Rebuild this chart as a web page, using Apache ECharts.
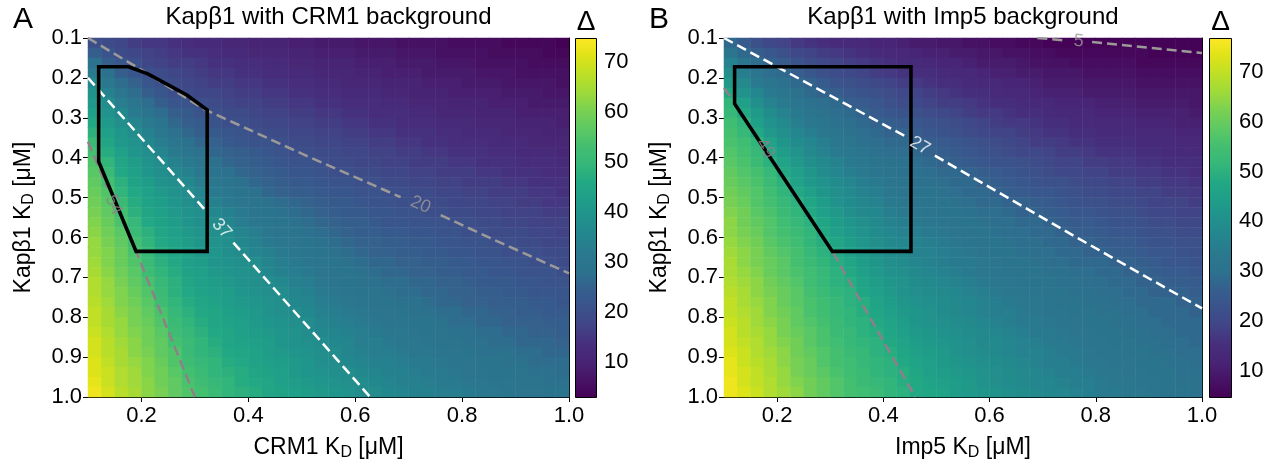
<!DOCTYPE html>
<html><head><meta charset="utf-8">
<script src="https://cdn.jsdelivr.net/npm/echarts@6/dist/echarts.min.js"></script>
<style>html,body{margin:0;padding:0;background:#fff}#c{width:1276px;height:466px}</style>
</head><body><div id="c"></div>
<script>
// ---------------- DATA ----------------
// Heatmap cell centres (μM), used for both axes of both panels
const kdCentres = [0.1125,0.1375,0.1625,0.1875,0.2125,0.2375,0.2625,0.2875,0.3125,0.3375,0.3625,0.3875,0.4125,0.4375,0.4625,0.4875,0.5125,0.5375,0.5625,0.5875,0.6125,0.6375,0.6625,0.6875,0.7125,0.7375,0.7625,0.7875,0.8125,0.8375,0.8625,0.8875,0.9125,0.9375,0.9625,0.9875];

// Panel A: Δ, one list per CRM1 K_D column (left -> right), each listing Kapβ1 K_D rows top -> bottom
const deltaA = [
[20,24,28,32,36,39,41,43,46,48,51,53,55,56,57,58,59,60,61,62,63,63,64,65,66,66,67,68,68,69,70,70,71,71,72,73],
[19,21,24,28,31,34,37,39,41,43,45,47,49,51,53,55,56,57,58,59,60,61,61,62,63,63,64,65,65,66,67,67,68,69,69,70],
[18,19,22,24,27,30,33,36,38,40,41,43,45,46,48,49,51,53,54,56,57,58,58,59,60,61,61,62,63,63,64,65,65,66,66,67],
[16,18,20,22,25,27,30,32,35,37,39,40,42,43,44,46,47,48,50,51,53,54,55,56,57,58,59,60,60,61,62,62,63,64,64,65],
[15,17,18,20,22,24,27,29,32,34,36,38,39,40,42,43,44,45,46,48,49,50,51,52,54,55,56,57,58,59,59,60,61,61,62,62],
[15,16,17,19,20,22,24,27,29,31,33,35,37,38,39,41,42,43,44,45,46,47,48,49,50,51,52,54,55,56,57,57,58,59,59,60],
[14,15,16,18,19,20,22,24,26,28,30,32,34,36,38,39,40,41,42,43,44,45,46,47,48,48,49,50,51,52,53,55,55,56,57,57],
[13,14,16,17,18,19,21,23,24,26,28,30,32,34,36,37,38,39,40,41,42,43,43,44,45,46,47,48,49,50,51,51,52,53,54,55],
[12,14,15,16,17,18,20,21,23,24,26,28,30,31,33,35,36,38,38,39,40,41,42,43,43,44,45,46,47,48,49,49,50,51,52,53],
[12,13,14,15,16,18,19,20,21,23,25,26,28,29,31,32,34,36,37,38,39,40,40,41,42,43,44,45,45,46,47,48,49,49,50,51],
[11,12,14,15,16,17,18,19,20,22,23,25,26,28,29,31,32,34,35,37,38,38,39,40,41,42,42,43,44,45,45,46,47,48,49,49],
[11,12,13,14,15,16,17,19,20,21,22,24,25,26,28,29,30,32,33,35,36,37,38,39,39,40,41,42,43,43,44,45,46,47,47,48],
[10,11,13,14,15,16,17,18,19,20,21,23,24,25,26,28,29,30,31,33,34,35,37,38,38,39,40,41,41,42,43,44,44,45,46,47],
[10,11,12,13,14,15,16,17,18,19,21,22,23,24,25,26,28,29,30,31,32,34,35,36,37,38,39,39,40,41,42,42,43,44,45,45],
[10,11,12,13,14,15,16,17,18,19,20,21,22,23,24,25,27,28,29,30,31,32,33,34,36,37,38,38,39,40,40,41,42,43,43,44],
[9,10,11,12,13,14,15,16,17,18,19,20,21,22,23,24,26,27,28,29,30,31,32,33,34,35,36,37,38,39,39,40,41,41,42,43],
[9,10,11,12,13,14,15,16,17,18,19,20,21,22,23,24,25,26,27,28,29,30,31,32,33,34,35,36,37,37,38,39,40,40,41,42],
[8,9,10,11,12,13,14,15,16,17,18,19,20,21,22,23,24,25,26,27,28,29,30,30,31,32,33,34,35,36,37,38,38,39,40,41],
[8,9,10,11,12,13,14,15,16,17,18,19,19,20,21,22,23,24,25,26,27,28,29,29,30,31,32,33,34,35,36,37,37,38,39,40],
[8,9,10,11,11,12,13,14,15,16,17,18,19,20,21,22,23,23,24,25,26,27,28,29,29,30,31,32,33,34,35,35,36,37,38,39],
[7,8,9,10,11,12,13,14,15,16,17,18,18,19,20,21,22,23,24,24,25,26,27,28,28,29,30,31,32,33,33,34,35,36,37,37],
[7,8,9,10,11,12,13,13,14,15,16,17,18,19,20,21,21,22,23,24,25,25,26,27,28,29,29,30,31,32,33,33,34,35,36,37],
[7,8,9,9,10,11,12,13,14,15,16,17,17,18,19,20,21,22,22,23,24,25,26,26,27,28,29,30,30,31,32,33,34,34,35,36],
[6,7,8,9,10,11,12,13,13,14,15,16,17,18,19,20,20,21,22,23,24,24,25,26,27,27,28,29,30,31,31,32,33,34,34,35],
[6,7,8,9,10,10,11,12,13,14,15,16,16,17,18,19,20,21,21,22,23,24,25,25,26,27,28,28,29,30,31,31,32,33,34,34],
[6,7,8,8,9,10,11,12,13,14,14,15,16,17,18,19,19,20,21,22,23,23,24,25,26,26,27,28,29,29,30,31,32,32,33,34],
[6,6,7,8,9,10,11,11,12,13,14,15,16,16,17,18,19,20,21,21,22,23,24,24,25,26,26,27,28,29,29,30,31,32,32,33],
[5,6,7,8,9,9,10,11,12,13,13,14,15,16,17,18,18,19,20,21,22,22,23,24,25,25,26,27,27,28,29,30,30,31,32,33],
[5,6,7,8,8,9,10,11,12,12,13,14,15,16,16,17,18,19,20,20,21,22,23,23,24,25,25,26,27,28,28,29,30,30,31,32],
[5,6,6,7,8,9,10,10,11,12,13,14,14,15,16,17,18,18,19,20,21,21,22,23,23,24,25,26,26,27,28,28,29,30,31,31],
[5,5,6,7,8,9,9,10,11,12,12,13,14,15,16,16,17,18,19,19,20,21,22,22,23,24,24,25,26,27,27,28,29,29,30,31],
[4,5,6,7,7,8,9,10,11,11,12,13,14,14,15,16,17,17,18,19,20,20,21,22,23,23,24,25,25,26,27,28,28,29,30,30],
[4,5,6,6,7,8,9,9,10,11,12,12,13,14,15,16,16,17,18,19,19,20,21,21,22,23,24,24,25,26,26,27,28,29,29,30],
[4,5,5,6,7,8,8,9,10,11,11,12,13,14,14,15,16,17,17,18,19,20,20,21,22,22,23,24,25,25,26,27,27,28,29,30],
[4,4,5,6,7,7,8,9,10,10,11,12,13,13,14,15,15,16,17,18,18,19,20,21,21,22,23,23,24,25,26,26,27,28,28,29],
[3,4,5,6,6,7,8,9,9,10,11,11,12,13,14,14,15,16,17,17,18,19,19,20,21,22,22,23,24,24,25,26,27,27,28,29]
];

// Panel B: Δ, one list per Imp5 K_D column (left -> right), rows top -> bottom
const deltaB = [
[28,32,36,40,43,47,51,52,54,55,56,57,58,59,60,61,62,63,64,64,65,66,67,67,68,69,70,70,71,72,72,73,74,74,75,75],
[25,28,32,35,38,41,45,48,51,52,54,55,56,57,58,59,60,61,61,62,63,64,64,65,66,67,67,68,69,69,70,71,71,72,72,73],
[22,26,29,32,34,37,40,43,45,48,51,52,53,55,56,57,57,58,59,60,61,62,62,63,64,64,65,66,66,67,68,68,69,70,70,71],
[20,24,27,29,32,34,36,39,41,43,46,48,50,52,53,54,55,56,57,57,58,59,60,60,61,62,63,63,64,65,65,66,67,67,68,68],
[19,22,25,28,30,32,34,36,38,40,42,44,46,48,50,51,52,53,54,55,56,57,58,58,59,60,60,61,62,62,63,64,64,65,65,66],
[17,20,23,26,28,30,32,34,35,37,39,41,43,45,46,48,50,51,52,53,54,55,55,56,57,58,58,59,59,60,61,61,62,62,63,64],
[16,19,21,24,27,28,30,32,33,35,37,38,40,42,43,45,47,48,50,51,51,52,53,54,54,55,56,56,57,58,58,59,60,60,61,61],
[15,18,20,22,25,27,29,30,32,33,35,36,38,39,41,42,44,45,47,48,49,50,51,52,52,53,54,54,55,56,56,57,57,58,59,59],
[14,17,19,21,23,26,28,29,30,32,33,34,36,37,39,40,41,43,44,45,47,48,49,50,50,51,52,52,53,53,54,55,55,56,57,57],
[14,16,18,20,22,24,26,28,29,30,32,33,34,35,37,38,39,40,42,43,44,45,47,48,49,50,50,51,51,52,52,53,54,54,55,55],
[13,15,17,19,21,23,25,27,28,29,30,32,33,34,35,36,37,38,40,41,42,43,44,45,46,47,49,49,50,50,51,52,52,53,53,54],
[12,14,16,18,20,22,24,25,27,28,29,30,31,32,34,35,36,37,38,39,40,41,42,43,44,45,46,47,48,49,50,50,51,51,52,53],
[12,13,15,17,19,21,22,24,26,27,28,29,30,31,32,33,34,35,36,37,38,39,40,41,42,43,44,45,46,47,48,49,50,50,51,51],
[11,13,14,16,18,20,21,23,25,27,28,29,30,30,31,32,33,34,35,36,37,38,39,40,41,41,42,43,44,45,46,47,48,49,49,50],
[10,12,14,15,17,19,20,22,24,25,27,28,29,30,30,31,32,33,34,35,36,36,37,38,39,40,41,42,42,43,44,45,46,47,48,48],
[10,11,13,15,16,18,19,21,23,24,26,27,28,29,30,31,31,32,33,34,35,36,36,37,38,39,40,41,41,42,43,44,45,45,46,47],
[9,11,12,14,15,17,18,20,22,23,25,26,27,28,29,30,31,31,32,33,34,35,35,36,37,38,39,39,40,41,42,43,43,44,45,46],
[9,10,12,13,15,16,18,19,21,22,24,25,26,28,28,29,30,31,31,32,33,34,34,35,36,37,38,38,39,40,41,41,42,43,44,44],
[8,10,11,13,14,15,17,18,20,21,23,24,25,27,28,28,29,30,31,31,32,33,34,34,35,36,37,37,38,39,40,40,41,42,43,43],
[8,9,10,12,13,15,16,17,19,20,22,23,24,26,27,28,28,29,30,31,31,32,33,33,34,35,36,36,37,38,38,39,40,41,41,42],
[7,9,10,11,13,14,15,17,18,19,21,22,23,25,26,27,28,29,29,30,31,31,32,33,33,34,35,35,36,37,38,38,39,40,40,41],
[7,8,10,11,12,13,15,16,17,19,20,21,23,24,25,26,27,28,29,29,30,31,31,32,33,33,34,35,35,36,37,37,38,39,39,40],
[6,8,9,10,12,13,14,15,17,18,19,20,22,23,24,25,27,27,28,29,29,30,31,31,32,33,33,34,34,35,36,36,37,38,38,39],
[6,7,8,10,11,12,13,15,16,17,18,20,21,22,23,24,26,27,28,28,29,29,30,31,31,32,33,33,34,34,35,36,36,37,37,38],
[5,7,8,9,10,11,13,14,15,16,18,19,20,21,22,24,25,26,27,28,28,29,29,30,31,31,32,32,33,34,34,35,35,36,37,37],
[5,6,8,9,10,11,12,13,15,16,17,18,19,20,22,23,24,25,26,27,28,28,29,30,30,31,31,32,32,33,34,34,35,35,36,37],
[5,6,7,9,10,11,12,13,14,15,16,18,19,20,21,22,23,24,25,26,27,28,28,29,30,30,31,31,32,32,33,34,34,35,35,36],
[5,6,7,8,9,10,12,13,14,15,16,17,18,19,20,21,22,24,25,26,27,27,28,29,29,30,30,31,31,32,32,33,33,34,35,35],
[5,6,7,8,9,10,11,12,13,14,15,16,18,19,20,21,22,23,24,25,26,27,28,28,29,29,30,30,31,31,32,32,33,33,34,34],
[5,6,7,8,9,10,11,12,13,14,15,16,17,18,19,20,21,22,23,24,25,26,27,28,28,29,29,30,30,31,31,32,32,33,33,34],
[5,6,7,8,9,10,11,12,13,14,15,16,17,18,19,20,21,22,23,24,25,26,27,27,28,28,29,29,30,30,31,31,32,32,33,33],
[5,6,6,7,8,9,10,11,12,13,14,15,16,17,18,19,20,21,22,23,24,25,26,27,27,28,28,29,29,30,30,31,31,32,32,33],
[5,5,6,7,8,9,10,11,12,13,14,15,16,17,18,19,19,20,21,22,23,24,25,26,27,27,28,28,29,29,30,30,31,31,32,32],
[5,5,6,7,8,9,10,11,12,13,14,14,15,16,17,18,19,20,21,22,23,24,24,25,26,27,28,28,28,29,29,30,30,31,31,31],
[5,5,6,7,8,9,10,11,11,12,13,14,15,16,17,18,19,19,20,21,22,23,24,25,26,27,27,28,28,28,29,29,30,30,30,31],
[5,5,6,7,8,9,9,10,11,12,13,14,15,15,16,17,18,19,20,21,22,22,23,24,25,26,27,27,28,28,28,29,29,30,30,30]
];

// Colour-bar ranges
const deltaRangeA = [2.8, 74.8];
const deltaRangeB = [4.5, 76.8];

// Tick values
const xTicks = [0.2,0.4,0.6,0.8,1.0];
const yTicks = [0.1,0.2,0.3,0.4,0.5,0.6,0.7,0.8,0.9,1.0];
const cbTicks = [10,20,30,40,50,60,70];

// Contour lines [x, y]; '-' marks the gap left for the label
const contourA20 = [[0.1,0.1],[0.2,0.18],[0.315,0.277],[0.5,0.39],[0.685,0.499],[0.7,'-'],[0.76,0.544],[0.85,0.6],[1.0,0.69]];
const contourA37 = [[0.1,0.2],[0.325,0.54],[0.33,'-'],[0.372,0.613],[0.628,1.0]];
const contourA54 = [[0.1,0.36],[0.136,0.475],[0.14,'-'],[0.165,0.56],[0.19,0.635],[0.3,1.0]];
const contourB5  = [[0.69,0.1],[0.742,0.106],[0.75,'-'],[0.793,0.11],[1.0,0.1375]];
const contourB27 = [[0.1,0.1],[0.445,0.349],[0.46,'-'],[0.497,0.395],[0.764,0.6],[1.0,0.778]];
const contourB49 = [[0.1,0.225],[0.12,0.262],[0.158,0.338],[0.165,'-'],[0.198,0.418],[0.304,0.635],[0.46,1.0]];

// Contour labels [x, y, text]
const labelsA = [[0.722,0.518,'20'],[0.35,0.578,'37'],[0.148,0.518,'54']];
const labelsB = [[0.768,0.108,'5'],[0.469,0.37,'27'],[0.178,0.377,'49']];

// Outlined regions (polygons)
const regionA = [[0.12,0.172],[0.176,0.172],[0.212,0.19],[0.285,0.243],[0.323,0.28],[0.323,0.635],[0.19,0.635],[0.12,0.41],[0.12,0.172]];
const regionB = [[0.12,0.172],[0.452,0.172],[0.452,0.635],[0.304,0.635],[0.12,0.265],[0.12,0.172]];

// ---------------- STYLE / LAYOUT ----------------
const FONT = "'Liberation Sans', Arial, Helvetica, sans-serif";
const VIRIDIS = ['#440154','#471365','#482475','#472f7d','#414487','#3b528b','#355f8d','#2c728e','#2a788e','#24868e','#21918c','#1f9e89','#22a884','#35b779','#44bf70','#5ec962','#7ad151','#9fda3a','#bddf26','#dfe318','#fde725'];
const GREY_UP = '#9c9a98';
const GREY_LOW = '#8e8089';
const labelRotA = [-24,-48,-67];
const labelRotB = [-5,-30,-57];
const labelColA = [GREY_UP,'#ffffff',GREY_LOW];
const labelColB = [GREY_UP,'#ffffff',GREY_LOW];

const panels = [
  {left:88, width:481, cbLeft:575, cbWidth:22, xName:'CRM1', title:'Kapβ1 with CRM1 background', letter:'A'},
  {left:724, width:478, cbLeft:1209, cbWidth:23, xName:'Imp5', title:'Kapβ1 with Imp5 background', letter:'B'}
];
const TOP = 38, HEIGHT = 360;

const axisLineStyle = {color:'#000', width:1};
const tickFont = {fontSize:22, color:'#000', fontFamily:FONT};
const richName = {
  n:{fontSize:23, lineHeight:27, color:'#000', fontFamily:FONT},
  s:{fontSize:16, lineHeight:10, verticalAlign:'bottom', color:'#000', fontFamily:FONT}
};

const grid = [], xAxis = [], yAxis = [];
panels.forEach((p) => grid.push({left:p.left, top:TOP, width:p.width, height:HEIGHT, containLabel:false}));
panels.forEach((p) => grid.push({left:p.cbLeft, top:TOP, width:p.cbWidth, height:HEIGHT, containLabel:false}));

panels.forEach((p, k) => {
  xAxis.push({type:'value', gridIndex:k, position:'bottom', min:0.1, max:1.0,
    axisLine:{show:true, onZero:false, lineStyle:axisLineStyle},
    axisTick:{show:true, length:5, customValues:xTicks, lineStyle:axisLineStyle},
    axisLabel:Object.assign({show:true, customValues:xTicks, margin:8, formatter:v => (+v).toFixed(1)}, tickFont),
    splitLine:{show:false},
    name:'{n|' + p.xName + ' K}{s|D}{n| [μM]}', nameLocation:'middle', nameGap:37,
    nameTextStyle:{rich:richName}
  });
  xAxis.push({type:'category', gridIndex:k, position:'top', data:kdCentres.map(String),
    axisLine:{show:true, onZero:false, lineStyle:axisLineStyle}, axisTick:{show:false}, axisLabel:{show:false}, splitLine:{show:false}});
  yAxis.push({type:'value', gridIndex:k, position:'left', inverse:true, min:0.1, max:1.0,
    axisLine:{show:true, onZero:false, lineStyle:axisLineStyle},
    axisTick:{show:true, length:5, customValues:yTicks, lineStyle:axisLineStyle},
    axisLabel:Object.assign({show:true, customValues:yTicks, margin:6, formatter:v => (+v).toFixed(1)}, tickFont),
    splitLine:{show:false},
    name:'{n|Kapβ1 K}{s|D}{n| [μM]}', nameLocation:'middle', nameGap:51, nameRotate:90,
    nameTextStyle:{rich:richName}
  });
  yAxis.push({type:'category', gridIndex:k, position:'right', inverse:true, data:kdCentres.map(String),
    axisLine:{show:true, onZero:false, lineStyle:axisLineStyle}, axisTick:{show:false}, axisLabel:{show:false}, splitLine:{show:false}});
});
[deltaRangeA, deltaRangeB].forEach((r, k) => {
  xAxis.push({type:'value', gridIndex:2 + k, show:false, min:0, max:1});
  yAxis.push({type:'value', gridIndex:2 + k, position:'right', min:r[0], max:r[1],
    axisLine:{show:false}, splitLine:{show:false},
    axisTick:{show:true, length:5, customValues:cbTicks, lineStyle:axisLineStyle},
    axisLabel:Object.assign({show:true, customValues:cbTicks, margin:7}, tickFont)
  });
});

function heatData(cols){
  const out = [];
  cols.forEach((col, i) => col.forEach((v, j) => out.push([i, j, v])));
  return out;
}
function contour(pts, color, xi, yi){
  return {type:'line', xAxisIndex:xi, yAxisIndex:yi, data:pts, symbol:'none', showSymbol:false,
    connectNulls:false, silent:true, z:3, clip:true,
    lineStyle:{color:color, width:2.5, type:[10,5], cap:'butt'}};
}
function region(pts, xi, yi){
  return {type:'line', xAxisIndex:xi, yAxisIndex:yi, data:pts, symbol:'none', showSymbol:false,
    silent:true, z:4, clip:false,
    lineStyle:{color:'#000', width:3.6, join:'miter', cap:'square'}};
}
function labels(list, rots, cols, xi, yi){
  return {type:'scatter', xAxisIndex:xi, yAxisIndex:yi, symbolSize:0, silent:true, z:5,
    data:list.map((l, k) => ({value:[l[0], l[1]],
      label:{show:true, position:'inside', formatter:l[2], rotate:rots[k], color:cols[k], fontSize:18, fontFamily:FONT}}))};
}

const series = [
  {type:'heatmap', xAxisIndex:1, yAxisIndex:1, data:heatData(deltaA), z:1, silent:true, emphasis:{disabled:true}, itemStyle:{borderWidth:0}},
  {type:'heatmap', xAxisIndex:3, yAxisIndex:3, data:heatData(deltaB), z:1, silent:true, emphasis:{disabled:true}, itemStyle:{borderWidth:0}},
  contour(contourA20, GREY_UP, 0, 0),
  contour(contourA37, '#ffffff', 0, 0),
  contour(contourA54, GREY_LOW, 0, 0),
  region(regionA, 0, 0),
  labels(labelsA, labelRotA, labelColA, 0, 0),
  contour(contourB5, GREY_UP, 2, 2),
  contour(contourB27, '#ffffff', 2, 2),
  contour(contourB49, GREY_LOW, 2, 2),
  region(regionB, 2, 2),
  labels(labelsB, labelRotB, labelColB, 2, 2)
];

const visualMap = [deltaRangeA, deltaRangeB].map((r, k) => ({
  type:'continuous', seriesIndex:k, dimension:2, min:r[0], max:r[1],
  inRange:{color:VIRIDIS}, show:true, calculable:false, hoverLink:false,
  left:panels[k].cbLeft, top:TOP, itemWidth:panels[k].cbWidth, itemHeight:HEIGHT, padding:0, text:null
}));

const graphic = [];
panels.forEach((p) => {
  graphic.push({type:'text', x:p.left - 65, y:20, z:10, style:{text:p.letter, font:'30px ' + FONT, fill:'#000', align:'center', verticalAlign:'middle'}});
  graphic.push({type:'text', x:p.left + p.width / 2, y:17, z:10, style:{text:p.title, font:'24px ' + FONT, fill:'#000', align:'center', verticalAlign:'middle'}});
  graphic.push({type:'text', x:p.cbLeft + p.cbWidth / 2, y:22, z:10, style:{text:'Δ', font:'28px ' + FONT, fill:'#000', align:'center', verticalAlign:'middle'}});
  graphic.push({type:'rect', z:20, silent:true, shape:{x:p.cbLeft + 0.5, y:TOP + 0.5, width:p.cbWidth - 1, height:HEIGHT - 1}, style:{fill:null, stroke:'#000', lineWidth:1}});
});

const chart = echarts.init(document.getElementById('c'), null, {renderer:'canvas'});
chart.setOption({
  animation:false,
  backgroundColor:'#ffffff',
  textStyle:{fontFamily:FONT},
  grid, xAxis, yAxis, visualMap, series, graphic
});
</script>
</body></html>
